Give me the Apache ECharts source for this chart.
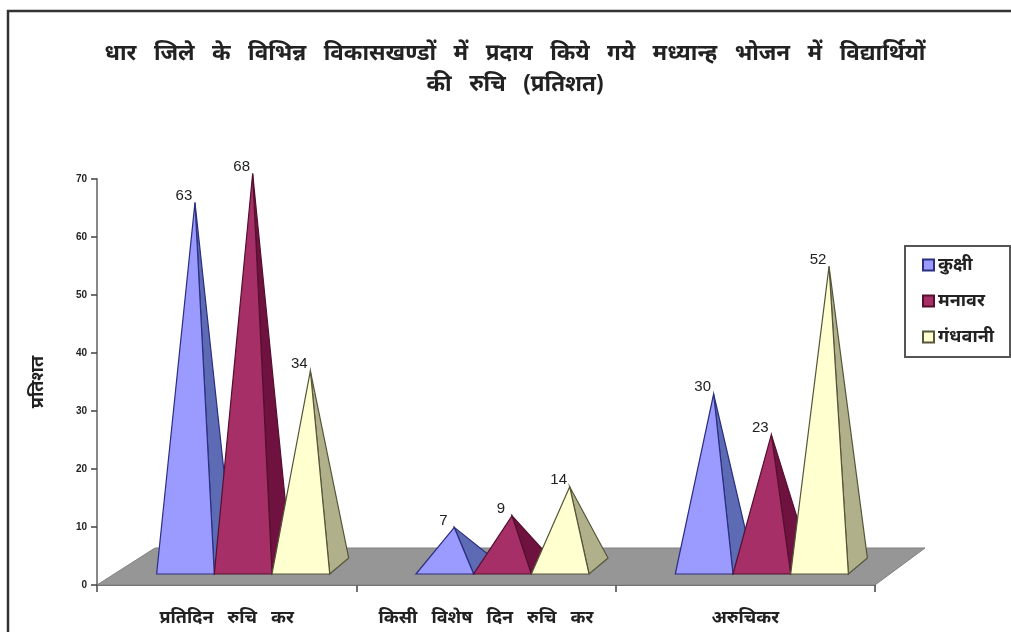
<!DOCTYPE html>
<html><head><meta charset="utf-8">
<style>html,body{margin:0;padding:0;background:#fff}#c{width:1011px;height:632px}</style>
<script src="https://cdn.jsdelivr.net/npm/echarts@6/dist/echarts.min.js"></script>
</head><body><div id="c"></div>
<script>
const categories = ['प्रतिदिन   रुचि   कर', 'किसी   विशेष   दिन   रुचि   कर', 'अरुचिकर'];
const seriesNames = ['कुक्षी', 'मनावर', 'गंधवानी'];
const kukshi = [63, 7, 30];
const manawar = [68, 9, 23];
const gandhwani = [34, 14, 52];
const yTicks = [0, 10, 20, 30, 40, 50, 60, 70];
const titleLines = 'धार   जिले   के   विभिन्न   विकासखण्डों   में   प्रदाय   किये   गये   मध्यान्ह   भोजन   में   विद्यार्थियों\nकी   रुचि   (प्रतिशत)';
const yName = 'प्रतिशत';
const frontColors = ['#9a9aff', '#a62f68', '#ffffcf'];
const sideColors = ['#5d6ab4', '#6f1240', '#b0b08a'];
const edgeColors = ['#2b2f80', '#55102f', '#55553a'];
const FONT = '"Noto Sans","Liberation Sans",sans-serif';

const chart = echarts.init(document.getElementById('c'), null, {renderer:'canvas'});
const BAR_W = 57.7, DX = 19, DY = 16, LIFT_FRONT = 11, LIFT_APEX = 17;

function pyramid(idx) {
  return function (params, api) {
    const cat = api.value(0), v = api.value(1);
    const c = api.coord([cat, v]);
    const z = api.coord([cat, 0]);
    const fl = z[0] + 16.5 + (idx - 1.5) * BAR_W;
    const fr = fl + BAR_W;
    const fy = z[1] - LIFT_FRONT;
    const ax = (fl + fr) / 2 + DX / 2;
    const ay = c[1] - LIFT_APEX;
    const line = {stroke: edgeColors[idx], lineWidth: 1.2};
    return {type: 'group', children: [
      {type: 'polygon', shape: {points: [[ax, ay], [fr, fy], [fr + DX, fy - DY]]},
       style: Object.assign({fill: sideColors[idx]}, line)},
      {type: 'polygon', shape: {points: [[ax, ay], [fl, fy], [fr, fy]]},
       style: Object.assign({fill: frontColors[idx]}, line)},
      {type: 'text', style: {x: ax - 11, y: ay - 7, text: String(v), align: 'center', verticalAlign: 'middle',
        font: '15px "Liberation Sans",Arial,sans-serif', fill: '#222'}, z2: 100}
    ]};
  };
}
function floor(params, api) {
  const band = api.size([1, 0])[0];
  const a = api.coord([0, 0]), b = api.coord([2, 0]);
  const x0 = a[0] - band / 2, x1 = b[0] + band / 2, y = a[1];
  return {type: 'polygon', shape: {points: [[x0, y], [x1, y], [x1 + 50, y - 37], [x0 + 58, y - 37]]},
    style: {fill: '#969696', stroke: '#808080', lineWidth: 1}};
}
const values = [kukshi, manawar, gandhwani];
const series = [{type: 'custom', silent: true, renderItem: floor, data: [[0, 0]], encode: {x: 0, y: 1}, z: 1}];
values.forEach((vals, i) => series.push({
  name: seriesNames[i], type: 'custom', renderItem: pyramid(i), silent: true, z: 2 + i,
  itemStyle: {color: frontColors[i], borderColor: edgeColors[i], borderWidth: 1},
  encode: {x: 0, y: 1}, data: vals.map((v, c) => [c, v])
}));

chart.setOption({
  animation: false,
  backgroundColor: '#fff',
  title: {text: titleLines, left: 510, top: 33, textAlign: 'center',
    textStyle: {fontFamily: FONT, fontSize: 22.4, fontWeight: 'bold', color: '#222', lineHeight: 31}},
  grid: {left: 97, top: 179, width: 778, height: 406, containLabel: false},
  xAxis: {type: 'category', data: categories, boundaryGap: true,
    axisLine: {lineStyle: {color: '#666', width: 2}},
    axisTick: {show: true, interval: 0, length: 7, lineStyle: {color: '#444', width: 1.5}},
    axisLabel: {color: '#222', interval: 0, margin: 24, fontFamily: FONT, fontSize: 18, fontWeight: 'bold'}},
  yAxis: {type: 'value', min: 0, max: 70, interval: 10, name: yName, nameLocation: 'middle', nameGap: 50, nameRotate: 90,
    nameTextStyle: {color: '#222', fontFamily: FONT, fontSize: 18, fontWeight: 'bold'},
    axisLine: {show: true, lineStyle: {color: '#888', width: 2}},
    axisTick: {show: true, length: 6, lineStyle: {color: '#444', width: 1.5}},
    axisLabel: {color: '#222', fontSize: 10, fontWeight: 'bold', margin: 10, fontFamily: '"Liberation Sans",Arial,sans-serif',
      formatter: v => yTicks.includes(v) ? String(v) : ''},
    splitLine: {show: false}},
  legend: {orient: 'vertical', left: 905, top: 246, padding: [8, 16, 9, 17], itemGap: 14,
    itemWidth: 11, itemHeight: 11, backgroundColor: '#fff', borderColor: '#555', borderWidth: 2, borderRadius: 0,
    textStyle: {color: '#222', fontFamily: FONT, fontSize: 18, fontWeight: 'bold', padding: [0, 0, 0, -1], lineHeight: 22},
    data: seriesNames.map(n => ({name: n, icon: 'rect'}))},
  graphic: [{type: 'rect', silent: true, z: -1, shape: {x: 8, y: 11, width: 1100, height: 800},
    style: {fill: 'none', stroke: '#333', lineWidth: 2.5}}],
  series
});
</script></body></html>
